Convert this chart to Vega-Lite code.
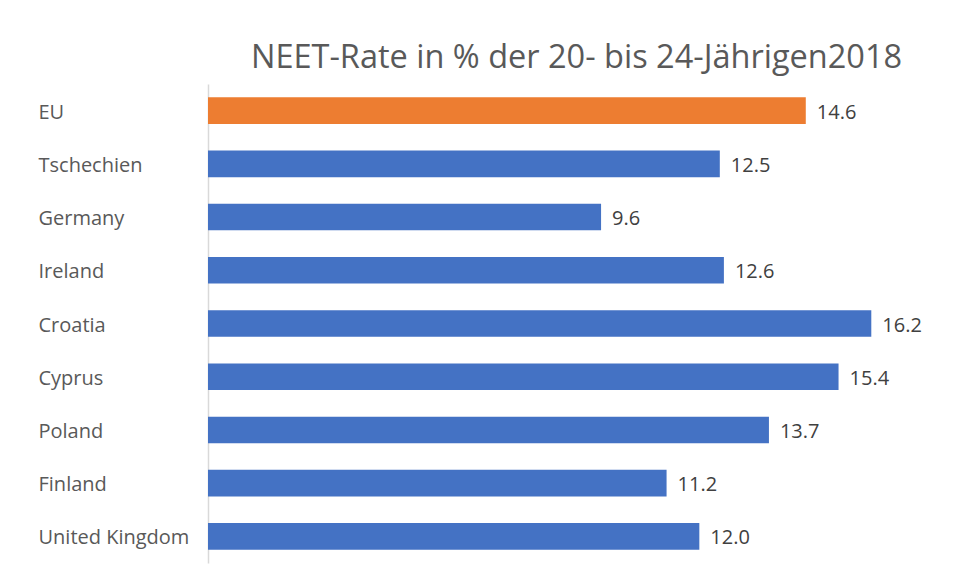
{
  "$schema": "https://vega.github.io/schema/vega-lite/v6.json",
  "autosize": {"type": "none"},
  "padding": {"left": 208, "top": 84, "right": 11, "bottom": 16},
  "width": 737,
  "height": 479,
  "background": "white",
  "config": {"view": {"stroke": null}, "font": "Open Sans"},
  "title": {
    "text": "NEET-Rate in % der 20- bis 24-Jährigen2018",
    "anchor": "middle",
    "fontSize": 32.5,
    "fontWeight": "normal",
    "color": "#595959",
    "font": "Open Sans",
    "offset": 10
  },
  "data": {
    "values": [
      {"country": "EU", "value": 14.6, "group": "EU"},
      {"country": "Tschechien", "value": 12.5, "group": "Land"},
      {"country": "Germany", "value": 9.6, "group": "Land"},
      {"country": "Ireland", "value": 12.6, "group": "Land"},
      {"country": "Croatia", "value": 16.2, "group": "Land"},
      {"country": "Cyprus", "value": 15.4, "group": "Land"},
      {"country": "Poland", "value": 13.7, "group": "Land"},
      {"country": "Finland", "value": 11.2, "group": "Land"},
      {"country": "United Kingdom", "value": 12.0, "group": "Land"}
    ]
  },
  "encoding": {
    "y": {
      "field": "country",
      "type": "nominal",
      "sort": null,
      "scale": {"paddingInner": 0.5, "paddingOuter": 0.25},
      "axis": {
        "title": null,
        "ticks": false,
        "labelAlign": "left",
        "labelPadding": 170,
        "labelFontSize": 20,
        "labelColor": "#595959",
        "labelFont": "Open Sans",
        "labelOffset": 2,
        "domainColor": "#d9d9d9",
        "domainWidth": 1.5
      }
    },
    "x": {
      "field": "value",
      "type": "quantitative",
      "scale": {"domain": [0, 18], "nice": false},
      "axis": null
    }
  },
  "layer": [
    {
      "mark": {"type": "bar"},
      "encoding": {
        "color": {
          "field": "group",
          "type": "nominal",
          "scale": {"domain": ["EU", "Land"], "range": ["#ed7d31", "#4472c4"]},
          "legend": null
        }
      }
    },
    {
      "mark": {"type": "text", "align": "left", "baseline": "middle", "dx": 11, "dy": 2, "fontSize": 20, "color": "#404040", "font": "Open Sans"},
      "encoding": {
        "text": {"field": "value", "type": "quantitative", "format": ".1f"}
      }
    }
  ]
}
